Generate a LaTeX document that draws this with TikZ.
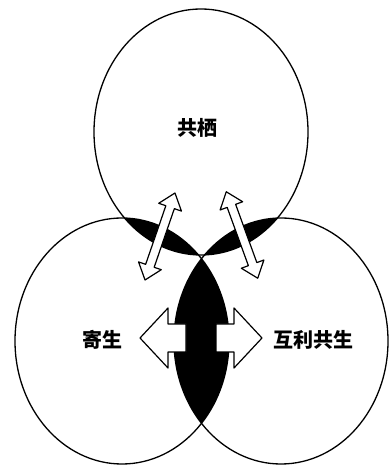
\documentclass[tikz,border=0pt]{standalone}
\usepackage{fontspec}
\usepackage{tikz}
\newfontfamily\cjk{Noto Sans CJK SC}
\begin{document}
\begin{tikzpicture}[x=1pt,y=1pt,line join=round,
  ring/.style={draw,line width=1.3pt},
  arrowbox/.style={draw,fill=white,line width=1.2pt},
  lbl/.style={font=\cjk\bfseries\fontsize{20}{20}\selectfont,inner sep=0pt}]
\useasboundingbox (0,0) rectangle (388,465);
\coordinate (top) at (201,333);
\coordinate (left) at (122,124);
\coordinate (right) at (281,124);
\coordinate (mid) at (201,127);
% overlaps
\foreach \a/\b in {top/left,top/right,left/right} {
  \begin{scope}
    \clip (\a) ellipse [x radius=107,y radius=123];
    \fill (\b) ellipse [x radius=107,y radius=123];
  \end{scope}
}
\foreach \c in {top,left,right}
  \draw[ring] (\c) ellipse [x radius=107,y radius=123];
% small arrows
\coordinate (al) at (160,228.5);
\coordinate (ar) at (242,230);
\foreach \c/\r in {al/71,ar/110}
  \draw[arrowbox,shift={(\c)},rotate=\r] (-46,0) -- (-31,12) -- (-31,4.5) -- (31,4.5)
    -- (31,12) -- (46,0) -- (31,-12) -- (31,-4.5) -- (-31,-4.5) -- (-31,-12) -- cycle;
% big arrows
\foreach \s in {1,-1}
  \draw[arrowbox,shift={(mid)},xscale=\s] (15,14) -- (33,14) -- (33,30) -- (61,0)
    -- (33,-30) -- (33,-14) -- (15,-14) -- cycle;
\node[lbl] (commens) at (197,337) {共栖};
\node[lbl] (parasit) at (102,125) {寄生};
\node[lbl] (mutual) at (313,125) {互利共生};
\end{tikzpicture}
\end{document}
